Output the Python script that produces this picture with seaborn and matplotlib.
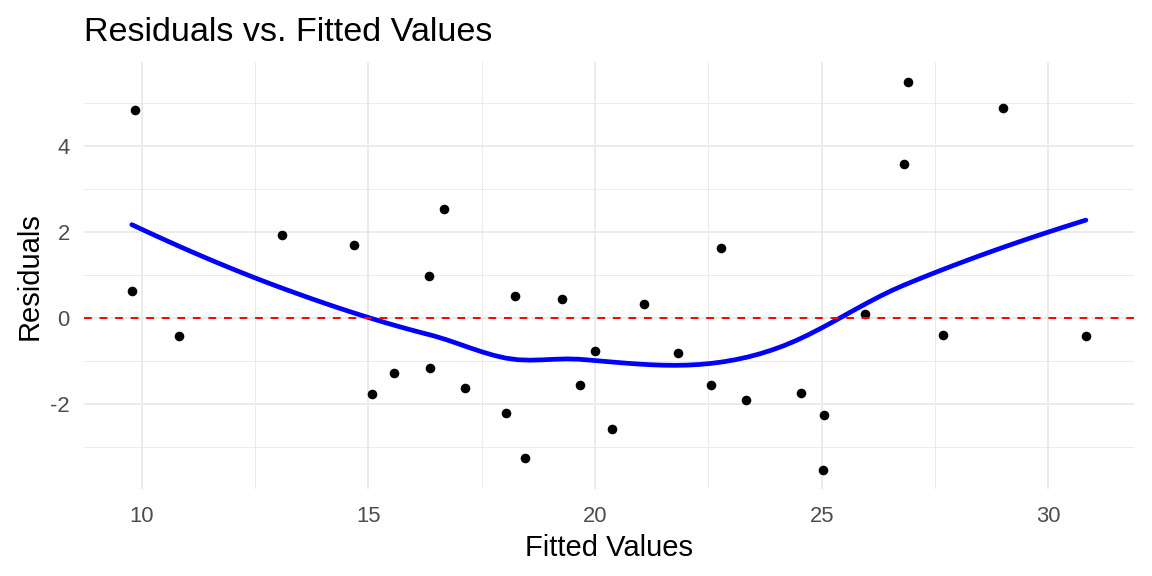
import numpy as np
import pandas as pd
import matplotlib
matplotlib.use("Agg")
import matplotlib.pyplot as plt
import seaborn as sns
from matplotlib.ticker import FixedLocator

# ---- data ----
fitted = [9.86, 9.78, 10.83, 13.10, 14.69, 15.07, 15.57, 16.33, 16.37, 16.67,
          17.13, 18.04, 18.23, 18.45, 19.28, 19.67, 20.00, 20.37, 21.08, 21.83,
          22.56, 22.79, 23.34, 24.55, 25.05, 25.04, 25.95, 26.81, 26.90, 27.68,
          29.01, 30.83]
residuals = [4.85, 0.62, -0.41, 1.92, 1.69, -1.76, -1.28, 0.98, -1.16, 2.53,
             -1.62, -2.22, 0.50, -3.26, 0.44, -1.56, -0.78, -2.58, 0.33, -0.81,
             -1.56, 1.63, -1.92, -1.74, -2.26, -3.53, 0.085, 3.58, 5.50, -0.39,
             4.88, -0.42]
x_major = [10, 15, 20, 25, 30]
x_minor = [12.5, 17.5, 22.5, 27.5]
y_major = [-2, 0, 2, 4]
y_minor = [-3, -1, 1, 3, 5]
title = "Residuals vs. Fitted Values"
x_label = "Fitted Values"
y_label = "Residuals"

df = pd.DataFrame({"fitted": fitted, "residuals": residuals})


def local_fit(x, y, x0, q):
    """Local quadratic fit with tricube weights; returns value and slope."""
    d = np.abs(x - x0)
    h = np.sort(d)[q - 1]
    w = np.clip(1 - (d / h) ** 3, 0, None) ** 3
    X = np.column_stack([np.ones(len(x)), x - x0, (x - x0) ** 2])
    sw = np.sqrt(w)
    beta = np.linalg.lstsq(X * sw[:, None], y * sw, rcond=None)[0]
    return beta[0], beta[1]


def loess(x, y, xs, span=0.75, cell=0.2):
    """R-style loess (degree 2) with kd-tree vertices + cubic Hermite interpolation."""
    x = np.asarray(x, float)
    y = np.asarray(y, float)
    n = len(x)
    q = int(np.floor(n * span))
    fc = int(np.floor(n * span * cell))
    xsrt = np.sort(x)
    mu = 0.005 * (xsrt[-1] - xsrt[0])
    verts = {xsrt[0] - mu, xsrt[-1] + mu}

    def split(l, u):  # 1-based inclusive indices
        if u - l + 1 <= fc:
            return
        m = (l + u) // 2
        while m >= 2 and xsrt[m - 2] == xsrt[m - 1]:
            m -= 1
        v = xsrt[m - 1]
        verts.add(v)
        split(l, m)
        split(m + 1, u)

    split(1, n)
    vx = np.array(sorted(verts))
    vals = np.array([local_fit(x, y, v, q) for v in vx])
    out = []
    for x0 in xs:
        i = np.clip(np.searchsorted(vx, x0) - 1, 0, len(vx) - 2)
        a, b = vx[i], vx[i + 1]
        t = (x0 - a) / (b - a)
        phi0 = (1 - t) ** 2 * (1 + 2 * t)
        phi1 = t ** 2 * (3 - 2 * t)
        psi0 = t * (1 - t) ** 2
        psi1 = -t ** 2 * (1 - t)
        out.append(phi0 * vals[i, 0] + phi1 * vals[i + 1, 0]
                   + (psi0 * vals[i, 1] + psi1 * vals[i + 1, 1]) * (b - a))
    return np.array(out)


xs = np.linspace(min(fitted), max(fitted), 80)
smooth = pd.DataFrame({"fitted": xs, "residuals": loess(fitted, residuals, xs)})

sns.set_theme(style="white")
plt.rcParams["font.family"] = ["Liberation Sans", "DejaVu Sans"]

fig = plt.figure(figsize=(11.52, 5.76), dpi=100)
ax = fig.add_axes([0.073, 0.151, 0.911, 0.741])

sns.scatterplot(data=df, x="fitted", y="residuals", color="black", s=48,
                linewidth=0, ax=ax, zorder=3)
sns.lineplot(data=smooth, x="fitted", y="residuals", color="#0000FF",
             linewidth=3.4, ax=ax, zorder=4)
ax.axhline(0, color="#FF0000", linewidth=1.4, linestyle=(0, (4, 4)), zorder=5)

# ggplot-like expansion (5%)
xr = max(fitted) - min(fitted)
yr = max(residuals) - min(residuals)
ax.set_xlim(min(fitted) - 0.05 * xr, max(fitted) + 0.05 * xr)
ax.set_ylim(min(residuals) - 0.05 * yr, max(residuals) + 0.05 * yr)

ax.xaxis.set_major_locator(FixedLocator(x_major))
ax.xaxis.set_minor_locator(FixedLocator(x_minor))
ax.yaxis.set_major_locator(FixedLocator(y_major))
ax.yaxis.set_minor_locator(FixedLocator(y_minor))
ax.set_xticklabels([str(v) for v in x_major])
ax.set_yticklabels([str(v) for v in y_major])

ax.grid(which="major", color="#EBEBEB", linewidth=1.4)
ax.grid(which="minor", color="#EBEBEB", linewidth=0.7)
ax.set_axisbelow(True)
for s in ax.spines.values():
    s.set_visible(False)
ax.tick_params(which="both", length=0)
ax.tick_params(axis="x", labelsize=15.8, labelcolor="#4D4D4D", pad=12)
ax.tick_params(axis="y", labelsize=15.8, labelcolor="#4D4D4D", pad=10.4)

ax.set_xlabel(x_label, fontsize=21, color="black")
ax.set_ylabel(y_label, fontsize=21, color="black")
ax.xaxis.label.set_va("baseline")
ax.xaxis.set_label_coords(0.5, -0.156)
ax.yaxis.label.set_va("baseline")
ax.yaxis.set_label_coords(-0.0445, 0.5)

ax.set_title(title, loc="left", fontsize=24.6, color="black", pad=15)

fig.savefig("out.png", dpi=100, facecolor="white")
